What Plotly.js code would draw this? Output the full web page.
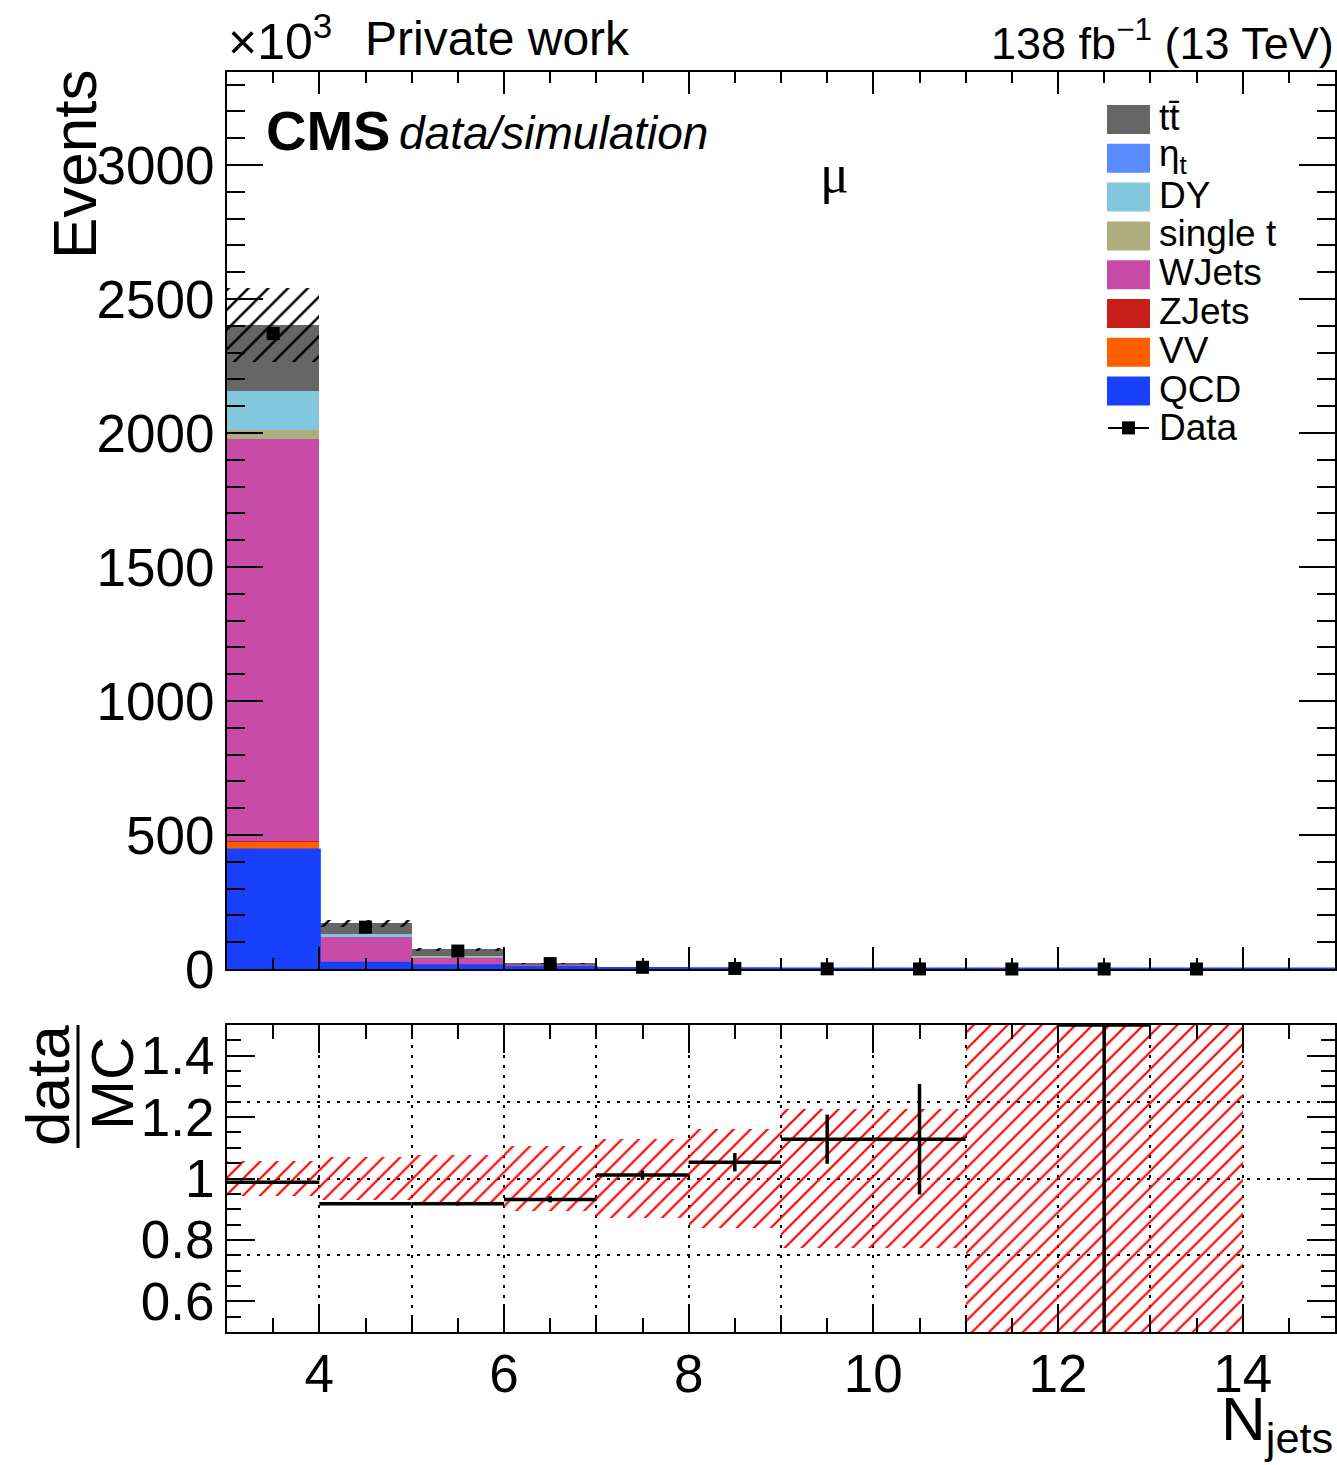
<!DOCTYPE html>
<html><head><meta charset="utf-8">
<script src="https://cdn.plot.ly/plotly-3.0.1.min.js"></script>
<style>html,body{margin:0;padding:0;background:#fff}#plot{width:1337px;height:1465px}</style>
</head><body><div id="plot"></div>
<script>
// ---------------- data (values in units of 10^3 events) ----------------
const binCenters = [3.5, 4.5, 5.5, 6.5, 7.5, 8.5, 9.5, 10.5, 11.5, 12.5, 13.5, 14.5];
const binEdges   = [3, 4, 5, 6, 7, 8, 9, 10, 11, 12, 13, 14, 15];

const QCD    = [444, 21, 12, 6, 1.5, 0.5, 0.15, 0.05, 0.002, 0.0005, 0.0003, 0];
const VV     = [31, 2, 0.8, 0.2, 0.05, 0.02, 0.005, 0.002, 0, 0, 0, 0];
const ZJets  = [3, 0.3, 0.1, 0.03, 0.01, 0.003, 0, 0, 0, 0, 0, 0];
const WJets  = [1499, 95, 30, 7, 2, 0.6, 0.2, 0.06, 0.001, 0.0003, 0.0002, 0];
const singlet= [36, 2, 1, 0.4, 0.15, 0.05, 0.02, 0.01, 0, 0, 0, 0];
const DY     = [144, 9, 4, 1, 0.3, 0.1, 0.03, 0.01, 0, 0, 0, 0];
const etat   = [0.4, 0.1, 0.05, 0.02, 0.01, 0, 0, 0, 0, 0, 0, 0];
const ttbar  = [246, 41, 25, 7, 2.2, 0.7, 0.2, 0.06, 0.001, 0.0002, 0.0001, 0];

const dataVals = [2371, 156, 67, 20.2, 6.3, 2.1, 0.68, 0.2, 0, 0.001, 0, null];

// relative MC uncertainty (hatched bands)
const relUnc   = [0.057, 0.07, 0.078, 0.107, 0.13, 0.16, 0.225, 0.225, 1.0, 1.0, 1.0, null];
// data / MC ratio and its error
const ratioVals = [0.988, 0.918, 0.918, 0.932, 1.011, 1.053, 1.128, 1.128, null, 1.5, null, null];
const ratioErr  = [0.003, 0.004, 0.006, 0.01, 0.015, 0.03, 0.08, 0.18, null, 1.0, null, null];

const stackNames  = ['QCD', 'VV', 'ZJets', 'WJets', 'single t', 'DY', 'η<sub>t</sub>', 't t\u0304'];
const stackColors = ['#1a40ff', '#ff5f00', '#c81e19', '#c84ba8', '#adad7e', '#82c8dd', '#5a8cff', '#666666'];
const stackValues = [QCD, VV, ZJets, WJets, singlet, DY, etat, ttbar];

const legendNames  = ['tt\u0304', 'η<sub>t</sub>', 'DY', 'single t', 'WJets', 'ZJets', 'VV', 'QCD'];
const legendColors = ['#666666', '#5a8cff', '#82c8dd', '#adad7e', '#c84ba8', '#c81e19', '#ff5f00', '#1a40ff'];

// ---------------- layout geometry helpers ----------------
const FIG_W = 1337, FIG_H = 1465;
const M = {l: 227, r: 2, t: 72, b: 133};
const PW = FIG_W - M.l - M.r, PH = FIG_H - M.t - M.b;
const px = x => (x - M.l) / PW;
const py = y => (FIG_H - M.b - y) / PH;
const FONT = 'Liberation Sans, Arial, Helvetica, sans-serif';

// ---------------- traces ----------------
const traces = [];
const cum = binCenters.map(() => 0);
stackValues.forEach((vals, k) => {
  traces.push({
    type: 'bar', x: binCenters, y: vals.slice(), base: cum.slice(), width: 1,
    name: stackNames[k], marker: {color: stackColors[k], line: {width: 0}},
    xaxis: 'x', yaxis: 'y', showlegend: false, hoverinfo: 'x+y+name'
  });
  vals.forEach((v, i) => { cum[i] += v; });
});
const total = cum;

// QCD outline (thin line along the bottom)
traces.push({
  type: 'scatter', mode: 'lines', x: binEdges, y: QCD.concat([QCD[QCD.length - 1]]),
  line: {shape: 'hv', color: '#1a40ff', width: 3}, xaxis: 'x', yaxis: 'y',
  showlegend: false, hoverinfo: 'skip'
});

// MC uncertainty band (upper)
const absUnc = total.map((t, i) => relUnc[i] == null ? null : relUnc[i] * t);
traces.push({
  type: 'bar', x: binCenters, width: 1,
  y: absUnc.map(u => u == null ? null : 2 * u),
  base: total.map((t, i) => absUnc[i] == null ? null : t - absUnc[i]),
  marker: {color: 'rgba(0,0,0,0)', line: {width: 0},
           pattern: {shape: '/', fgcolor: '#000000', fgopacity: 1, bgcolor: 'rgba(0,0,0,0)', size: 14, solidity: 0.18, fillmode: 'overlay'}},
  xaxis: 'x', yaxis: 'y', showlegend: false, hoverinfo: 'skip', name: 'MC unc.'
});

// data points (upper)
traces.push({
  type: 'scatter', mode: 'markers', x: binCenters, y: dataVals, name: 'Data',
  marker: {symbol: 'square', size: 13, color: '#000000'}, cliponaxis: false,
  xaxis: 'x', yaxis: 'y', showlegend: false
});

// ratio MC uncertainty band
traces.push({
  type: 'bar', x: binCenters, width: 1,
  y: relUnc.map(u => u == null ? null : 2 * u),
  base: relUnc.map(u => u == null ? null : 1 - u),
  marker: {color: 'rgba(0,0,0,0)', line: {width: 0},
           pattern: {shape: '/', fgcolor: '#ff0000', fgopacity: 1, bgcolor: 'rgba(0,0,0,0)', size: 12, solidity: 0.18, fillmode: 'overlay'}},
  xaxis: 'x2', yaxis: 'y2', showlegend: false, hoverinfo: 'skip', name: 'MC unc.'
});

// ratio data
traces.push({
  type: 'scatter', mode: 'markers', x: binCenters, y: ratioVals, name: 'data/MC',
  marker: {size: 0.1, color: 'rgba(0,0,0,0)'},
  error_x: {type: 'constant', value: 0.5, width: 0, thickness: 3.5, color: '#000000'},
  error_y: {type: 'data', array: ratioErr, width: 0, thickness: 3.5, color: '#000000'},
  xaxis: 'x2', yaxis: 'y2', showlegend: false
});

// dummy trace to activate grid overlay axes
traces.push({type: 'scatter', mode: 'markers', x: [3], y: [1], marker: {opacity: 0},
             xaxis: 'x3', yaxis: 'y3', showlegend: false, hoverinfo: 'skip'});

// ---------------- axes ----------------
const tickFont = {family: FONT, size: 53, color: '#000'};
const baseAxis = {
  showline: true, linecolor: '#000', linewidth: 2, mirror: 'allticks',
  ticks: 'inside', tickcolor: '#000', tickwidth: 2, showgrid: false, zeroline: false,
  tickfont: tickFont, fixedrange: true
};

const layout = {
  width: FIG_W, height: FIG_H, margin: M, paper_bgcolor: '#fff', plot_bgcolor: 'rgba(0,0,0,0)',
  barmode: 'overlay', bargap: 0, showlegend: false, font: {family: FONT, color: '#000'},
  xaxis: Object.assign({}, baseAxis, {domain: [0, 1], anchor: 'y', range: [3, 15], tick0: 0, dtick: 2,
          ticklen: 22, showticklabels: false,
          minor: {dtick: 0.5, tick0: 0, ticklen: 11, tickwidth: 2, tickcolor: '#000', ticks: 'inside'}}),
  yaxis: Object.assign({}, baseAxis, {domain: [py(969), 1], anchor: 'x', range: [0, 3347], tick0: 0, dtick: 500,
          ticklen: 36,
          minor: {dtick: 100, tick0: 0, ticklen: 18, tickwidth: 2, tickcolor: '#000', ticks: 'inside'}}),
  xaxis2: Object.assign({}, baseAxis, {domain: [0, 1], anchor: 'y2', range: [3, 15], tick0: 0, dtick: 2,
          ticklen: 28, ticklabelstandoff: -6,
          minor: {dtick: 0.5, tick0: 0, ticklen: 14, tickwidth: 2, tickcolor: '#000', ticks: 'inside'}}),
  yaxis2: Object.assign({}, baseAxis, {domain: [0, py(1025)], anchor: 'x2', range: [0.5, 1.5], tick0: 0, dtick: 0.2,
          ticklen: 28,
          minor: {dtick: 0.05, tick0: 0, ticklen: 14, tickwidth: 2, tickcolor: '#000', ticks: 'inside'}}),
  xaxis3: {overlaying: 'x2', anchor: 'y3', range: [3, 15], tick0: 0, dtick: 1, showgrid: true,
           gridcolor: '#000', gridwidth: 2, griddash: '3px,7px', showticklabels: false, ticks: '',
           showline: false, zeroline: false, fixedrange: true},
  yaxis3: {overlaying: 'y2', anchor: 'x3', range: [0.5, 1.5], tick0: 0, dtick: 0.25, showgrid: true,
           gridcolor: '#000', gridwidth: 2, griddash: '3px,7px', showticklabels: false, ticks: '',
           showline: false, zeroline: false, fixedrange: true},
  annotations: [], shapes: []
};

const ann = (o) => layout.annotations.push(Object.assign({xref: 'paper', yref: 'paper', showarrow: false,
  font: {family: FONT, size: 48, color: '#000'}}, o));

ann({text: '×10<sup>3</sup>', x: px(226), y: py(38), xanchor: 'left', yanchor: 'middle', font: {family: FONT, size: 50, color: '#000'}});
ann({text: 'Private work', x: px(363), y: py(38), xanchor: 'left', yanchor: 'middle', font: {family: FONT, size: 48, color: '#000'}});
ann({text: '138 fb<sup>−1</sup> (13 TeV)', x: px(1336), y: py(40), xanchor: 'right', yanchor: 'middle', font: {family: FONT, size: 45, color: '#000'}});
ann({text: '<b>CMS</b>', x: px(264), y: py(131), xanchor: 'left', yanchor: 'middle', font: {family: FONT, size: 56, color: '#000'}});
ann({text: '<i>data/simulation</i>', x: px(397), y: py(133), xanchor: 'left', yanchor: 'middle', font: {family: FONT, size: 46, color: '#000'}});
ann({text: 'μ', x: px(834), y: py(174), xanchor: 'center', yanchor: 'middle', font: {family: 'Liberation Serif, DejaVu Serif, serif', size: 54, color: '#000'}});
ann({text: 'Events', textangle: -90, x: px(75), y: py(164), xanchor: 'center', yanchor: 'middle', font: {family: FONT, size: 62, color: '#000'}});
ann({text: 'data', textangle: -90, x: px(47), y: py(1086), xanchor: 'center', yanchor: 'middle', font: {family: FONT, size: 62, color: '#000'}});
ann({text: 'MC', textangle: -90, x: px(112), y: py(1084), xanchor: 'center', yanchor: 'middle', font: {family: FONT, size: 60, color: '#000'}});
ann({text: 'N<sub>jets</sub>', x: px(1335), y: py(1423), xanchor: 'right', yanchor: 'middle', font: {family: FONT, size: 62, color: '#000'}});

layout.shapes.push({type: 'line', xref: 'paper', yref: 'paper', x0: px(78), x1: px(78), y0: py(1025), y1: py(1148),
                    line: {color: '#000', width: 3}});

// ---------------- legend (drawn box by box) ----------------
const LEG_X0 = 1107, LEG_X1 = 1150, LEG_Y0 = 119.5, LEG_DY = 38.8, BOX_H = 29;
legendNames.forEach((nm, k) => {
  const yc = LEG_Y0 + k * LEG_DY;
  layout.shapes.push({type: 'rect', xref: 'paper', yref: 'paper', x0: px(LEG_X0), x1: px(LEG_X1),
    y0: py(yc + BOX_H / 2), y1: py(yc - BOX_H / 2), fillcolor: legendColors[k], line: {width: 0}});
  ann({text: nm, x: px(1157), y: py(yc - 2), xanchor: 'left', yanchor: 'middle', font: {family: FONT, size: 37, color: '#000'}});
});
{
  const yc = LEG_Y0 + legendNames.length * LEG_DY - 2;
  layout.shapes.push({type: 'line', xref: 'paper', yref: 'paper', x0: px(1108), x1: px(1149), y0: py(yc), y1: py(yc),
    line: {color: '#000', width: 2}});
  layout.shapes.push({type: 'rect', xref: 'paper', yref: 'paper', x0: px(1122), x1: px(1135), y0: py(yc + 6.5), y1: py(yc - 6.5),
    fillcolor: '#000', line: {width: 0}});
  ann({text: 'Data', x: px(1157), y: py(yc), xanchor: 'left', yanchor: 'middle', font: {family: FONT, size: 37, color: '#000'}});
}

Plotly.newPlot('plot', traces, layout, {staticPlot: true, displayModeBar: false});
</script></body></html>
